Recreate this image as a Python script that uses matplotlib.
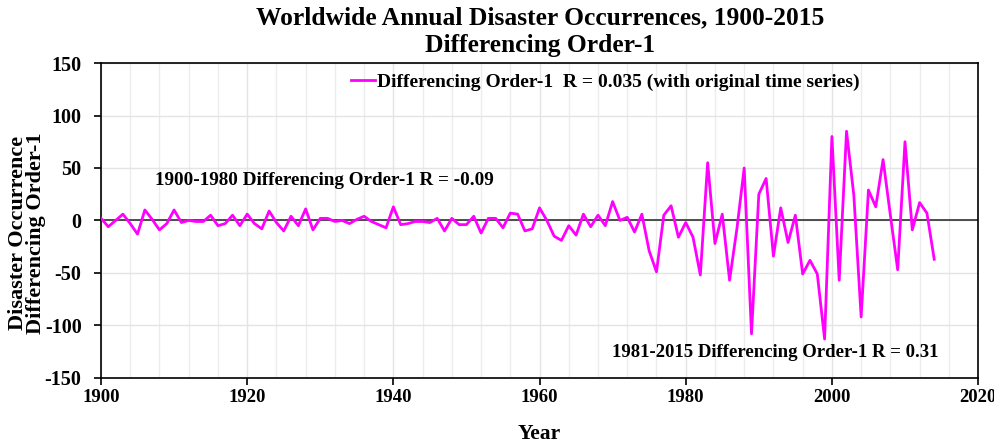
import matplotlib
matplotlib.use("Agg")
import matplotlib.pyplot as plt
from matplotlib.ticker import MultipleLocator

plt.rcParams.update({"font.family": ["Liberation Serif", "DejaVu Serif"],
                     "font.weight": "bold", "axes.unicode_minus": False})

# first differences of annual disaster counts, 1900-2014
years = list(range(1900, 2015))
diff1 = [
    2, -6, 0, 6, -3, -13, 10, 1, -9, -3,            # 1900s
    10, -2, 0, -1, -1, 5, -5, -3, 5, -5,            # 1910s
    6, -3, -8, 9, -2, -10, 4, -5, 11, -9,           # 1920s
    2, 2, -1, 0, -3, 1, 4, -1, -4, -7,              # 1930s
    13, -4, -3, -1, -1, -2, 2, -10, 2, -4,          # 1940s
    -4, 4, -12, 2, 2, -7, 7, 6, -10, -8,            # 1950s
    12, 0, -15, -19, -5, -14, 6, -6, 5, -5,         # 1960s
    18, 0, 3, -11, 6, -29, -49, 5, 14, -16,         # 1970s
    -2, -16, -52, 55, -22, 6, -57, -8, 50, -108,    # 1980s
    25, 40, -34, 12, -21, 5, -51, -38, -51, -113,   # 1990s
    80, -57, 85, 24, -92, 29, 13, 58, 5, -47,       # 2000s
    75, -9, 17, 7, -37,                             # 2010-2014
]

title = "Worldwide Annual Disaster Occurrences, 1900-2015\nDifferencing Order-1"
legend_label = "Differencing Order-1  R = 0.035 (with original time series)"
note_early = "1900-1980 Differencing Order-1 R = -0.09"
note_late = "1981-2015 Differencing Order-1 R = 0.31"

fig = plt.figure(figsize=(9.95, 4.44), dpi=100)
ax = fig.add_axes([0.1015, 0.149, 0.8815, 0.709])

ax.plot(years, diff1, color="#ff00ff", lw=2.0, label=legend_label, zorder=3)
ax.axhline(0, color="#404040", lw=1.3, zorder=2)

ax.set_xlim(1900, 2020)
ax.set_ylim(-150, 150)
ax.xaxis.set_major_locator(MultipleLocator(20))
ax.xaxis.set_minor_locator(MultipleLocator(4))
ax.yaxis.set_major_locator(MultipleLocator(50))
ax.grid(which="major", color="#e4e4e4", lw=1.0)
ax.grid(which="minor", axis="x", color="#ececec", lw=1.0)
ax.tick_params(which="minor", length=0)
ax.tick_params(which="major", direction="out", length=5, width=1.2)
ax.tick_params(axis="y", labelsize=14.5, pad=9)
ax.tick_params(axis="x", labelsize=13.5, pad=3)
for lab in ax.get_xticklabels() + ax.get_yticklabels():
    lab.set_fontweight("bold")
for s in ax.spines.values():
    s.set_color("black")
    s.set_linewidth(1.2)

ax.set_xlabel("Year", fontsize=15.5, fontweight="bold", labelpad=13)
ax.set_ylabel("Disaster Occurrence\nDifferencing Order-1", fontsize=16,
              fontweight="bold", labelpad=-1, linespacing=0.85)
ax.yaxis.label.set_y(0.46)
fig.text(0.543, 0.985, title, ha="center", va="top", fontsize=18.4,
         fontweight="bold", linespacing=1.25)

ax.legend(loc="center left", bbox_to_anchor=(0.285, 0.94), frameon=False,
          borderaxespad=0, borderpad=0, handlelength=1.25, handletextpad=0.1,
          prop={"family": ["Liberation Sans Narrow", "Liberation Serif"],
                "weight": "bold", "size": 14})

ax.text(1907.4, 38, note_early, fontsize=13.8, fontweight="bold", va="center")
ax.text(1969.9, -125.5, note_late, fontsize=13.5, fontweight="bold", va="center")

fig.savefig("out.png", dpi=100)
